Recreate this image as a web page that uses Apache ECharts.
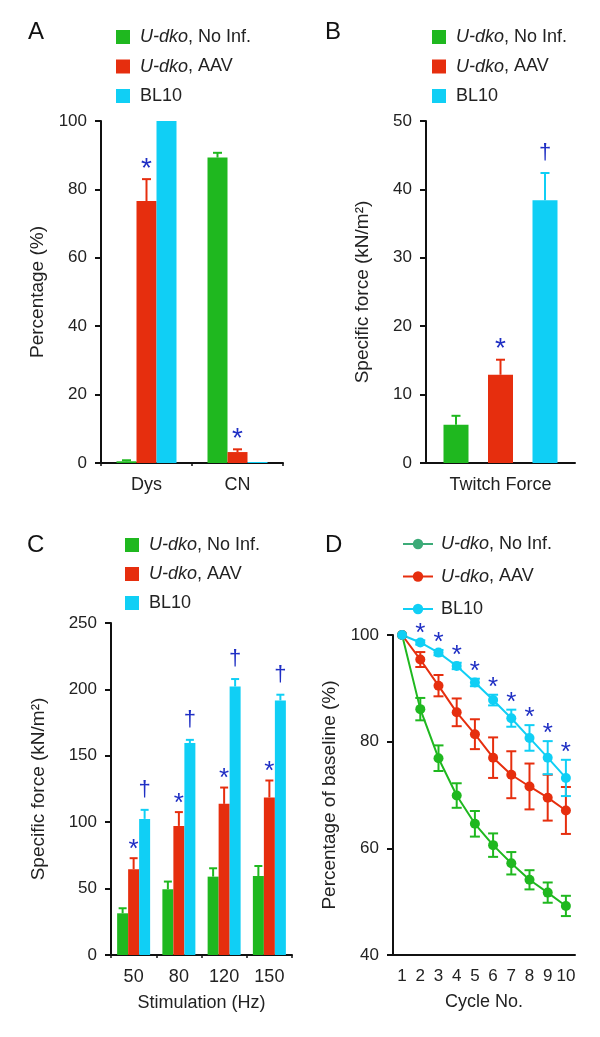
<!DOCTYPE html>
<html>
<head>
<meta charset="utf-8">
<script src="https://cdn.jsdelivr.net/npm/echarts@6/dist/echarts.min.js"></script>
<style>
html,body{margin:0;padding:0;background:#fff;}
#wrap{position:relative;width:600px;height:1037px;overflow:hidden;}
.p{position:absolute;}
</style>
</head>
<body>
<div id="wrap">
  <div id="pA" class="p" style="left:0;top:0;width:300px;height:518px"></div>
  <div id="pB" class="p" style="left:300px;top:0;width:300px;height:518px"></div>
  <div id="pC" class="p" style="left:0;top:518px;width:300px;height:519px"></div>
  <div id="pD" class="p" style="left:300px;top:518px;width:300px;height:519px"></div>
</div>
<script>
// ---------------- DATA ----------------
var seriesNames = ['U-dko, No Inf.', 'U-dko, AAV', 'BL10'];

// Panel A
var catsA = ['Dys', 'CN'];
var aNoInf = [0.5, 89.3];
var aNoInfErr = [0.3, 1.4];
var aAAV = [76.6, 3.2];
var aAAVErr = [6.4, 0.8];
var aBL10 = [100, 0.3];
var aBL10Err = [0, 0];
var aAAVSig = ['*', '*'];
var aTicks = [0, 100, 20];

// Panel B
var catsB = ['Twitch Force'];
var bNoInf = [5.6];
var bNoInfErr = [1.3];
var bAAV = [12.9];
var bAAVErr = [2.2];
var bBL10 = [38.4];
var bBL10Err = [4.0];
var bAAVSig = ['*'];
var bBL10Sig = ['\u2020'];
var bTicks = [0, 50, 10];

// Panel C
var catsC = ['50', '80', '120', '150'];
var cNoInf = [31.4, 49.5, 59.0, 59.5];
var cNoInfErr = [3.8, 5.8, 6.3, 7.5];
var cAAV = [64.6, 97.2, 113.8, 118.6];
var cAAVErr = [8.3, 10.4, 12.3, 12.8];
var cBL10 = [102.5, 159.6, 202.2, 191.7];
var cBL10Err = [6.8, 2.4, 5.6, 4.3];
var cAAVSig = ['*', '*', '*', '*'];
var cBL10Sig = ['\u2020', '\u2020', '\u2020', '\u2020'];
var cTicks = [0, 250, 50];

// Panel D
var cycles = ['1', '2', '3', '4', '5', '6', '7', '8', '9', '10'];
var dNoInf = [100, 86.1, 76.9, 69.9, 64.6, 60.6, 57.2, 54.1, 51.7, 49.2];
var dNoInfErr = [0, 2.1, 2.4, 2.3, 2.4, 2.2, 2.1, 1.8, 1.9, 1.9];
var dAAV = [100, 95.4, 90.5, 85.5, 81.4, 77.0, 73.8, 71.6, 69.5, 67.1];
var dAAVErr = [0, 1.4, 2.0, 2.6, 2.8, 3.8, 4.4, 4.3, 4.3, 4.4];
var dBL10 = [100, 98.6, 96.7, 94.2, 91.1, 87.8, 84.4, 80.7, 77.0, 73.2];
var dBL10Err = [0, 0.4, 0.5, 0.6, 0.7, 1.0, 1.6, 2.4, 3.1, 3.4];
var dBL10Sig = ['', '*', '*', '*', '*', '*', '*', '*', '*', '*'];
var dTicks = [40, 100, 20];

// ---------------- STYLE ----------------
var FONT = "'Liberation Sans', Arial, Helvetica, sans-serif";
var COLORS = ['#1fb81f', '#e62e0e', '#10cff5'];
var LEG_D_GREEN = '#3cab78';
var SIG = '#1f2fc4';
var AX = '#111';
var TXT = '#222';

function legendFmt(name) {
  if (name.indexOf('U-dko') === 0) return '{sp| }{i|U-dko}{n|' + name.slice(5) + '}';
  return '{sp| }{n|' + name + '}';
}
function legendCfg(left, top, gap, spW, isLine) {
  var cfg = {
    orient: 'vertical', left: left, top: top, itemGap: gap, padding: 0,
    itemWidth: isLine ? 30 : 14, itemHeight: isLine ? 13 : 14,
    selectedMode: false,
    formatter: legendFmt,
    textStyle: {
      fontFamily: FONT, fontSize: 18, color: TXT,
      rich: {
        sp: { width: spW, fontSize: 18, fontFamily: FONT },
        i: { fontStyle: 'italic', fontSize: 18, fontFamily: FONT, color: TXT },
        n: { fontSize: 18, fontFamily: FONT, color: TXT }
      }
    }
  };
  if (isLine) {
    cfg.data = [
      { name: seriesNames[0], itemStyle: { color: LEG_D_GREEN }, lineStyle: { color: LEG_D_GREEN } },
      { name: seriesNames[1] },
      { name: seriesNames[2] }
    ];
  } else {
    cfg.data = seriesNames.map(function (n) { return { name: n, icon: 'rect' }; });
  }
  return cfg;
}
function panelLabel(txt, left, top) {
  return { type: 'text', left: left, top: top, style: { text: txt, font: '24px ' + FONT, fill: '#111' } };
}
function yAxisCfg(t, name, gap) {
  return {
    type: 'value', min: t[0], max: t[1], interval: t[2],
    axisLine: { show: true, lineStyle: { color: AX, width: 2 } },
    axisTick: { show: true, length: 6, lineStyle: { color: AX, width: 2 } },
    splitLine: { show: false },
    axisLabel: { fontFamily: FONT, fontSize: 17, color: TXT, margin: 14 },
    name: name, nameLocation: 'middle', nameGap: gap,
    nameTextStyle: { fontFamily: FONT, fontSize: 19, color: TXT }
  };
}
function xCatCfg(cats, tickLen, name, nameGap) {
  var c = {
    type: 'category', data: cats,
    axisLine: { show: true, lineStyle: { color: AX, width: 2 } },
    axisTick: { show: tickLen > 0, length: tickLen, lineStyle: { color: AX, width: 1.5 } },
    axisLabel: { fontFamily: FONT, fontSize: 18, color: TXT, margin: 13, interval: 0 }
  };
  if (name) {
    c.name = name; c.nameLocation = 'middle'; c.nameGap = nameGap;
    c.nameTextStyle = { fontFamily: FONT, fontSize: 18, color: TXT };
  }
  return c;
}
// upward error bars for grouped bars
function barErr(vals, errs, color, off, cap) {
  return {
    type: 'custom', silent: true, z: 3,
    data: vals.map(function (v, i) { return [i, v, errs[i]]; }),
    renderItem: function (params, api) {
      var ci = api.value(0), v = api.value(1), e = api.value(2);
      if (!(e > 0)) return null;
      var p0 = api.coord([ci, v]), p1 = api.coord([ci, v + e]);
      var x = p0[0] + off;
      return { type: 'group', children: [
        { type: 'line', shape: { x1: x, y1: p0[1], x2: x, y2: p1[1] }, style: { stroke: color, lineWidth: 2 } },
        { type: 'line', shape: { x1: x - cap, y1: p1[1], x2: x + cap, y2: p1[1] }, style: { stroke: color, lineWidth: 2 } }
      ] };
    }
  };
}
// two-sided error bars for the line panel
function lineErr(vals, errs, color, cap) {
  return {
    type: 'custom', silent: true, z: 2,
    data: vals.map(function (v, i) { return [i, v, errs[i]]; }),
    renderItem: function (params, api) {
      var ci = api.value(0), v = api.value(1), e = api.value(2);
      if (!(e > 0)) return null;
      var pt = api.coord([ci, v + e]), pb = api.coord([ci, v - e]);
      var x = pt[0];
      return { type: 'group', children: [
        { type: 'line', shape: { x1: x, y1: pt[1], x2: x, y2: pb[1] }, style: { stroke: color, lineWidth: 2 } },
        { type: 'line', shape: { x1: x - cap, y1: pt[1], x2: x + cap, y2: pt[1] }, style: { stroke: color, lineWidth: 2 } },
        { type: 'line', shape: { x1: x - cap, y1: pb[1], x2: x + cap, y2: pb[1] }, style: { stroke: color, lineWidth: 2 } }
      ] };
    }
  };
}
// significance symbols above the error bar tops
function sigSeries(vals, errs, sigs, off, dy, size) {
  return {
    type: 'custom', silent: true, z: 4,
    data: vals.map(function (v, i) { return [i, v + errs[i]]; }),
    renderItem: function (params, api) {
      var s = sigs[params.dataIndex];
      if (!s) return null;
      var p = api.coord([api.value(0), api.value(1)]);
      return { type: 'text', x: p[0] + off, y: p[1] + dy,
        style: { text: s, fill: SIG, font: size + 'px ' + FONT, align: 'center', verticalAlign: 'middle' } };
    }
  };
}
function bars(vals, idx, bw, gap) {
  var s = { type: 'bar', name: seriesNames[idx], data: vals, barWidth: bw, itemStyle: { color: COLORS[idx] }, z: 2 };
  if (idx === 0) s.barGap = gap;
  return s;
}

// ---------------- PANEL A ----------------
(function () {
  var ch = echarts.init(document.getElementById('pA'), null, { renderer: 'canvas' });
  var bw = 20, gp = 0, step = bw + gp;
  ch.setOption({
    animation: false,
    graphic: [panelLabel('A', 28, 20)],
    legend: legendCfg(116, 28, 11.5, 5, false),
    grid: { left: 101, top: 121, width: 182, height: 342 },
    xAxis: xCatCfg(catsA, 3),
    yAxis: yAxisCfg(aTicks, 'Percentage (%)', 54),
    series: [
      bars(aNoInf, 0, bw, '0%'), bars(aAAV, 1, bw), bars(aBL10, 2, bw),
      barErr(aNoInf, aNoInfErr, COLORS[0], -step, 4.5),
      barErr(aAAV, aAAVErr, COLORS[1], 0, 4.5),
      barErr(aBL10, aBL10Err, COLORS[2], step, 4.5),
      sigSeries(aAAV, aAAVErr, aAAVSig, 0, -10, 28)
    ]
  });
})();

// ---------------- PANEL B ----------------
(function () {
  var ch = echarts.init(document.getElementById('pB'), null, { renderer: 'canvas' });
  var bw = 25, gp = 19.5, step = bw + gp;
  ch.setOption({
    animation: false,
    graphic: [panelLabel('B', 25, 20)],
    legend: legendCfg(132, 28, 11.5, 5, false),
    grid: { left: 126, top: 121, width: 149, height: 342 },
    xAxis: xCatCfg(catsB, 0),
    yAxis: yAxisCfg(bTicks, 'Specific force (kN/m\u00b2)', 54),
    series: [
      bars(bNoInf, 0, bw, (gp / bw * 100) + '%'), bars(bAAV, 1, bw), bars(bBL10, 2, bw),
      barErr(bNoInf, bNoInfErr, COLORS[0], -step, 4.5),
      barErr(bAAV, bAAVErr, COLORS[1], 0, 4.5),
      barErr(bBL10, bBL10Err, COLORS[2], step, 4.5),
      sigSeries(bAAV, bAAVErr, bAAVSig, 0, -10, 28),
      sigSeries(bBL10, bBL10Err, bBL10Sig, step, -20, 22)
    ]
  });
})();

// ---------------- PANEL C ----------------
(function () {
  var ch = echarts.init(document.getElementById('pC'), null, { renderer: 'canvas' });
  var bw = 11, gp = 0, step = bw + gp;
  ch.setOption({
    animation: false,
    graphic: [panelLabel('C', 27, 15)],
    legend: legendCfg(125, 18, 11, 5, false),
    grid: { left: 111, top: 105, width: 181, height: 332 },
    xAxis: xCatCfg(catsC, 3, 'Stimulation (Hz)', 39),
    yAxis: yAxisCfg(cTicks, 'Specific force (kN/m\u00b2)', 63),
    series: [
      bars(cNoInf, 0, bw, '0%'), bars(cAAV, 1, bw), bars(cBL10, 2, bw),
      barErr(cNoInf, cNoInfErr, COLORS[0], -step, 4),
      barErr(cAAV, cAAVErr, COLORS[1], 0, 4),
      barErr(cBL10, cBL10Err, COLORS[2], step, 4),
      sigSeries(cAAV, cAAVErr, cAAVSig, 0, -8.5, 26),
      sigSeries(cBL10, cBL10Err, cBL10Sig, step, -20, 22)
    ]
  });
})();

// ---------------- PANEL D ----------------
(function () {
  var ch = echarts.init(document.getElementById('pD'), null, { renderer: 'canvas' });
  function line(vals, idx) {
    return { type: 'line', name: seriesNames[idx], data: vals, symbol: 'circle', symbolSize: 10,
      lineStyle: { color: COLORS[idx], width: 2 }, itemStyle: { color: COLORS[idx] }, z: 3 };
  }
  ch.setOption({
    animation: false,
    graphic: [panelLabel('D', 25, 15)],
    legend: legendCfg(102, 17, 14.5, 3, true),
    grid: { left: 93, top: 117, width: 182, height: 320 },
    xAxis: {
      type: 'category', data: cycles, boundaryGap: true,
      axisLine: { show: true, lineStyle: { color: AX, width: 2 } },
      axisTick: { show: false },
      axisLabel: { fontFamily: FONT, fontSize: 17, color: TXT, margin: 13, interval: 0 },
      name: 'Cycle No.', nameLocation: 'middle', nameGap: 38,
      nameTextStyle: { fontFamily: FONT, fontSize: 18, color: TXT }
    },
    yAxis: yAxisCfg(dTicks, 'Percentage of baseline (%)', 48),
    series: [
      lineErr(dNoInf, dNoInfErr, COLORS[0], 5),
      lineErr(dAAV, dAAVErr, COLORS[1], 5),
      lineErr(dBL10, dBL10Err, COLORS[2], 5),
      line(dNoInf, 0), line(dAAV, 1), line(dBL10, 2),
      sigSeries(dBL10, dBL10Err, dBL10Sig, 0, -7, 26)
    ]
  });
})();
</script>
</body>
</html>
